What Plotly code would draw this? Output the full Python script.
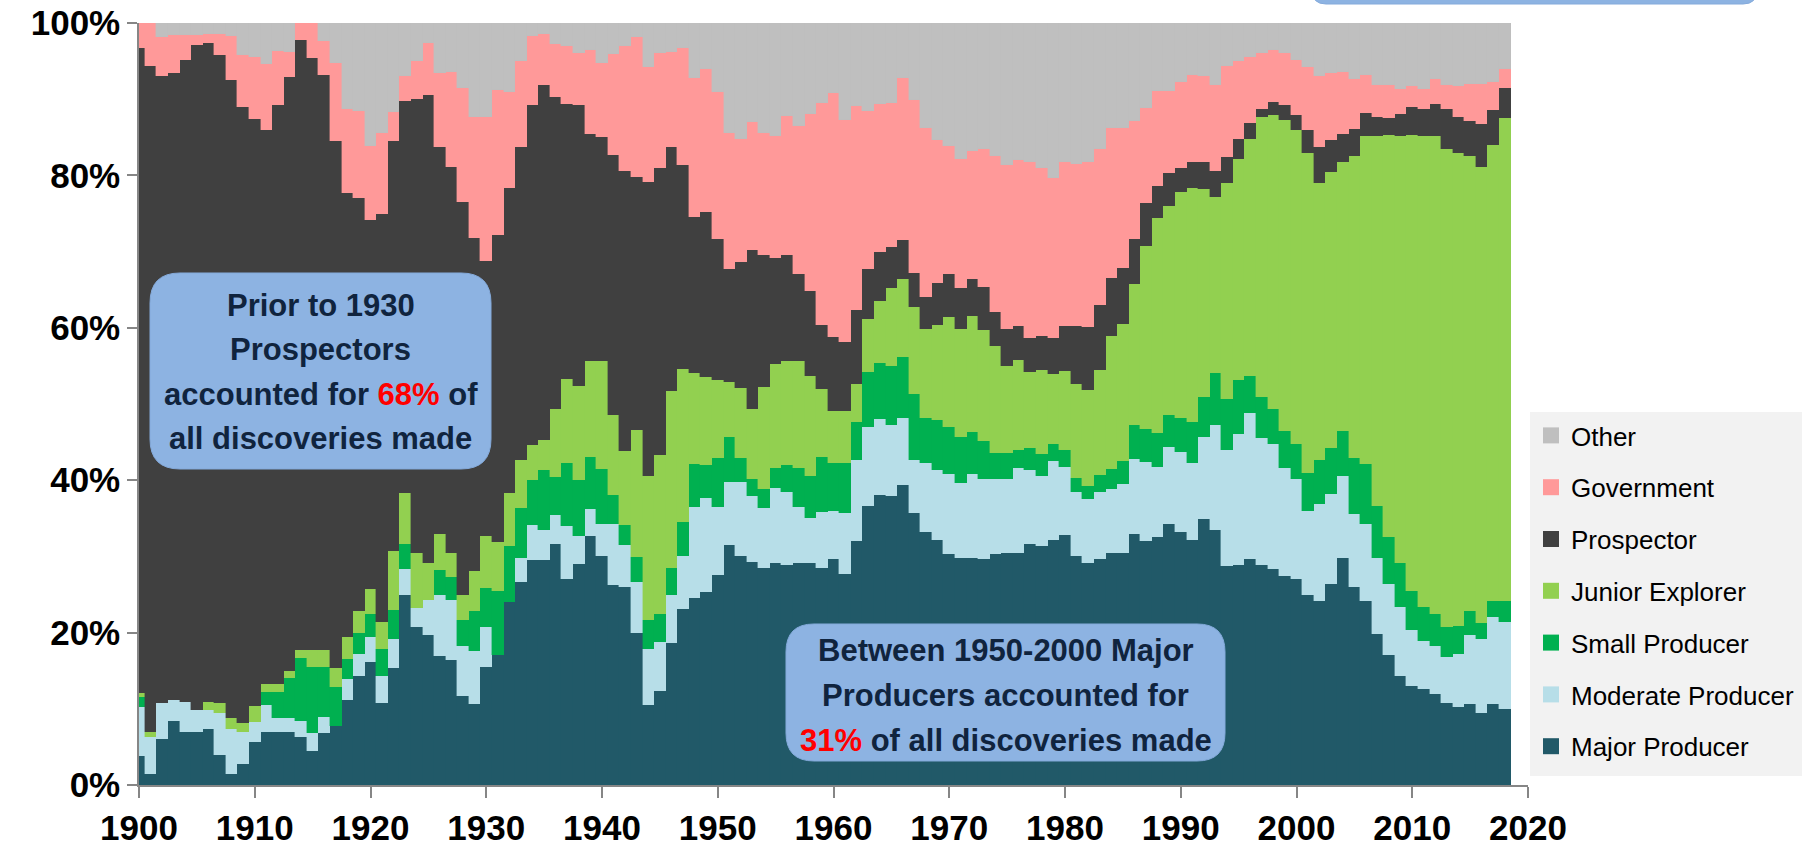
import plotly.graph_objects as go

years = list(range(1900, 2019))

major = [3.8, 1.5, 6.1, 8.4, 6.9, 7.0, 7.3, 4.0, 1.5, 2.7,
         5.6, 7.0, 7.0, 7.0, 6.3, 4.5, 6.8, 7.7, 11.1, 14.3,
         16.1, 10.8, 15.4, 25.0, 20.8, 19.7, 16.9, 16.4, 11.7, 10.6,
         15.5, 17.0, 24.0, 26.6, 29.5, 29.5, 31.6, 27.1, 29.0, 32.7,
         30.1, 26.3, 26.0, 20.0, 10.5, 12.3, 18.7, 23.1, 24.6, 25.3,
         27.6, 31.5, 30.1, 29.3, 28.5, 29.1, 28.9, 29.2, 29.2, 28.5,
         29.7, 27.7, 32.0, 36.6, 38.1, 37.9, 39.4, 35.7, 33.2, 32.2,
         30.3, 29.8, 29.8, 29.7, 30.3, 30.4, 30.5, 31.6, 31.4, 32.2,
         32.8, 30.1, 29.2, 29.7, 30.5, 30.5, 33.0, 32.0, 32.5, 34.2,
         33.2, 32.2, 34.9, 33.5, 28.7, 28.9, 29.6, 28.9, 28.4, 27.4,
         27.0, 24.9, 24.2, 26.4, 29.8, 26.0, 24.2, 19.8, 17.1, 14.3,
         13.0, 12.6, 12.0, 10.8, 10.2, 10.6, 9.5, 10.6, 10.0]

moderate = [6.4, 4.8, 4.6, 2.8, 4.0, 2.8, 2.5, 5.5, 5.9, 4.2,
            2.7, 3.5, 1.8, 1.8, 2.1, 2.3, 2.1, 0.0, 2.8, 2.9,
            3.3, 3.5, 3.8, 3.3, 2.4, 4.6, 8.1, 7.9, 6.6, 7.0,
            5.2, 0.0, 0.0, 3.2, 4.6, 4.0, 3.8, 6.9, 3.7, 3.5,
            4.1, 7.9, 5.5, 6.7, 7.4, 6.5, 6.2, 6.9, 11.9, 12.3,
            8.9, 8.3, 9.6, 8.6, 7.8, 9.9, 9.6, 7.3, 5.8, 7.3,
            6.3, 8.0, 10.6, 10.4, 9.9, 9.3, 8.8, 6.9, 9.0, 9.1,
            10.5, 9.8, 11.0, 10.4, 9.8, 9.8, 11.1, 9.7, 9.1, 10.3,
            8.9, 8.3, 8.3, 8.8, 8.3, 9.0, 9.8, 10.4, 9.2, 10.1,
            10.5, 10.0, 10.8, 13.7, 15.2, 17.1, 19.2, 16.6, 16.3, 14.2,
            13.2, 11.1, 12.7, 11.8, 10.8, 9.6, 10.1, 10.0, 9.3, 9.0,
            7.4, 6.3, 6.2, 6.0, 7.0, 9.1, 9.7, 11.5, 11.4]

small = [1.3, 0.0, 0.0, 0.0, 0.0, 0.0, 0.0, 0.0, 0.0, 0.0,
         0.0, 1.7, 3.4, 5.2, 8.3, 8.7, 6.6, 5.1, 2.7, 2.7,
         3.1, 3.6, 3.8, 3.3, 0.0, 0.0, 3.2, 3.0, 3.3, 5.2,
         5.1, 8.5, 7.3, 6.5, 5.9, 7.8, 5.0, 8.3, 7.3, 6.8,
         7.3, 3.8, 2.6, 3.2, 3.7, 3.7, 3.6, 4.5, 5.6, 4.4,
         6.4, 5.9, 3.2, 2.3, 2.6, 2.6, 3.5, 5.1, 5.6, 7.2,
         6.2, 6.5, 5.0, 7.2, 7.4, 7.8, 8.0, 8.7, 6.0, 6.6,
         6.2, 6.1, 5.5, 5.0, 3.5, 3.4, 2.4, 2.9, 3.0, 2.2,
         2.3, 1.9, 1.7, 2.2, 2.7, 3.0, 4.4, 4.3, 4.5, 4.3,
         4.4, 5.4, 5.2, 6.9, 6.8, 7.1, 4.9, 5.4, 4.6, 4.8,
         4.5, 5.0, 5.7, 6.0, 5.9, 7.3, 7.8, 6.8, 6.2, 5.9,
         5.0, 4.5, 4.2, 3.9, 3.7, 3.1, 2.1, 2.0, 2.7]

junior = [0.6, 0.7, 0.0, 0.0, 0.0, 0.0, 1.1, 1.2, 1.4, 1.3,
          2.1, 1.0, 1.0, 0.9, 1.0, 2.2, 2.2, 2.6, 2.8, 2.9,
          3.2, 3.5, 7.7, 6.7, 7.3, 4.8, 4.8, 3.1, 3.4, 5.3,
          6.9, 6.4, 7.0, 6.4, 4.6, 4.0, 8.9, 11.0, 12.4, 12.7,
          14.2, 10.5, 9.7, 16.7, 18.9, 20.8, 23.2, 20.1, 12.0, 11.6,
          10.2, 7.2, 9.2, 9.1, 13.3, 13.7, 13.7, 14.0, 13.1, 9.0,
          6.9, 6.9, 5.0, 7.0, 8.1, 10.2, 10.2, 11.4, 11.6, 12.5,
          14.4, 14.1, 15.3, 14.6, 14.0, 11.4, 11.8, 10.0, 11.0, 9.2,
          10.3, 12.3, 12.7, 13.7, 17.4, 18.0, 18.6, 24.0, 28.2, 27.4,
          29.7, 30.7, 27.3, 23.1, 28.3, 29.1, 31.1, 36.7, 38.6, 40.9,
          41.2, 41.9, 36.4, 36.2, 35.2, 39.7, 43.1, 48.6, 52.7, 56.0,
          59.9, 61.8, 62.8, 62.7, 62.0, 59.7, 59.8, 59.9, 63.4]

prospector = [84.6, 87.4, 82.3, 82.3, 84.2, 87.3, 86.5, 85.1, 83.7, 80.8,
              77.0, 72.7, 76.1, 78.0, 80.1, 77.7, 75.5, 69.1, 58.3, 54.2,
              48.4, 53.5, 53.8, 51.5, 59.5, 61.4, 50.7, 50.7, 51.5, 43.7,
              36.1, 40.3, 40.1, 41.0, 44.6, 46.5, 41.0, 36.1, 36.9, 29.7,
              29.4, 34.2, 36.8, 33.2, 38.6, 37.7, 32.0, 26.8, 20.4, 21.6,
              18.6, 14.8, 16.5, 20.9, 17.3, 13.9, 13.8, 11.5, 11.1, 8.4,
              9.7, 9.1, 9.7, 6.5, 6.5, 5.4, 5.1, 4.5, 4.2, 5.5,
              5.6, 5.4, 4.8, 5.6, 4.5, 4.8, 4.5, 4.4, 4.4, 4.8,
              6.0, 7.7, 8.2, 8.6, 7.7, 7.4, 5.9, 5.7, 4.2, 4.3,
              3.2, 3.4, 3.6, 3.4, 3.4, 2.6, 2.1, 1.1, 1.7, 2.0,
              2.0, 3.0, 4.7, 4.2, 3.7, 3.5, 3.0, 2.4, 2.2, 2.8,
              3.7, 3.5, 4.2, 5.3, 4.7, 4.7, 5.6, 4.6, 4.0]

government = [3.3, 5.6, 5.2, 4.9, 3.3, 1.3, 1.2, 2.7, 5.8, 6.8,
              8.2, 8.7, 7.0, 3.3, 2.2, 4.6, 4.5, 10.3, 11.0, 11.4,
              9.7, 10.6, 3.8, 3.3, 5.0, 6.9, 9.7, 12.5, 15.0, 15.8,
              18.9, 19.0, 12.5, 11.3, 9.1, 6.7, 7.0, 7.6, 6.8, 11.0,
              9.6, 13.2, 16.4, 18.3, 15.1, 15.0, 12.5, 15.3, 18.3, 18.8,
              19.2, 17.8, 16.2, 16.8, 16.0, 16.0, 18.3, 19.4, 23.3, 29.1,
              32.0, 29.1, 26.8, 20.8, 19.4, 18.9, 21.3, 22.7, 22.2, 18.8,
              16.9, 16.9, 16.8, 18.1, 20.5, 21.5, 21.7, 23.1, 22.1, 20.9,
              21.4, 21.2, 21.7, 20.4, 19.6, 18.3, 15.5, 12.5, 12.5, 10.8,
              11.3, 11.5, 11.3, 11.2, 12.0, 10.2, 8.6, 7.3, 6.9, 6.7,
              7.3, 8.3, 9.3, 8.8, 8.2, 6.6, 5.0, 4.2, 4.3, 3.4,
              2.7, 2.7, 3.2, 3.2, 4.1, 4.8, 5.3, 3.7, 2.5]

other = [0.0, 0.0, 1.8, 1.6, 1.6, 1.6, 1.4, 1.5, 1.7, 4.2,
         4.4, 5.4, 3.7, 3.8, 0.0, 0.0, 2.3, 5.2, 11.3, 11.6,
         16.2, 14.5, 11.7, 6.9, 5.0, 2.6, 6.6, 6.4, 8.5, 12.4,
         12.3, 8.8, 9.1, 5.0, 1.7, 1.5, 2.7, 3.0, 3.9, 3.6,
         5.3, 4.1, 3.0, 1.9, 5.8, 4.0, 3.8, 3.3, 7.2, 6.0,
         9.1, 14.5, 15.2, 13.0, 14.5, 14.8, 12.2, 13.5, 11.9, 10.5,
         9.2, 12.7, 10.9, 11.5, 10.6, 10.5, 7.2, 10.1, 13.8, 15.3,
         16.1, 17.9, 16.8, 16.6, 17.4, 18.7, 18.0, 18.3, 19.0, 20.4,
         18.3, 18.5, 18.2, 16.6, 13.8, 13.8, 12.8, 11.1, 8.9, 8.9,
         7.7, 6.8, 6.9, 8.2, 5.6, 5.0, 4.5, 4.0, 3.5, 4.0,
         4.8, 5.8, 7.0, 6.6, 6.4, 7.3, 6.8, 8.2, 8.2, 8.6,
         8.3, 8.6, 7.4, 8.1, 8.3, 8.0, 8.0, 7.7, 6.0]

series_names = ["Major Producer", "Moderate Producer", "Small Producer",
                "Junior Explorer", "Prospector", "Government", "Other"]
series_values = [major, moderate, small, junior, prospector, government, other]
series_colors = ["#215968", "#b7dee8", "#00b050", "#92d050", "#404040", "#ff9999", "#bfbfbf"]

x_ticks = list(range(1900, 2021, 10))
y_ticks = [0, 20, 40, 60, 80, 100]
y_ticktext = ["0%", "20%", "40%", "60%", "80%", "100%"]

# ---- layout geometry (pixels) ----
W, H = 1802, 846
PL, PR, PT, PB = 139, 1528, 23, 785


def px(xp):
    return (xp - PL) / (PR - PL)


def py(yp):
    return (PB - yp) / (PB - PT)


def rounded_path(x0, y0, x1, y1, r):
    pts = [
        ("M", [(x0 + r, y0)]),
        ("L", [(x1 - r, y0)]),
        ("Q", [(x1, y0), (x1, y0 + r)]),
        ("L", [(x1, y1 - r)]),
        ("Q", [(x1, y1), (x1 - r, y1)]),
        ("L", [(x0 + r, y1)]),
        ("Q", [(x0, y1), (x0, y1 - r)]),
        ("L", [(x0, y0 + r)]),
        ("Q", [(x0, y0), (x0 + r, y0)]),
    ]
    s = ""
    for cmd, ps in pts:
        s += cmd + " ".join(f"{px(a):.5f},{py(b):.5f}" for a, b in ps) + " "
    return s + "Z"


FONT = "Liberation Sans, Arial, sans-serif"

fig = go.Figure()
for name, vals, col in zip(series_names, series_values, series_colors):
    fig.add_trace(go.Bar(
        x=years, y=vals, name=name, showlegend=False,
        marker=dict(color=col, line=dict(color=col, width=0.4)),
    ))

# legend entries (square symbols), listed top (Other) to bottom (Major Producer)
for name, col in list(zip(series_names, series_colors))[::-1]:
    fig.add_trace(go.Scatter(
        x=[None], y=[None], mode="markers", name=name, legendgroup=name,
        marker=dict(symbol="square", size=16, color=col),
    ))

shapes = [
    dict(type="rect", xref="paper", yref="paper", x0=px(1530), x1=px(1802),
         y0=py(776), y1=py(412), fillcolor="#f2f2f2", line=dict(width=0), layer="below"),
    dict(type="path", xref="paper", yref="paper", path=rounded_path(150, 273, 491, 469, 30),
         fillcolor="#8db3e2", line=dict(color="#84aadb", width=1), layer="above"),
    dict(type="path", xref="paper", yref="paper", path=rounded_path(786, 624, 1225, 761, 28),
         fillcolor="#8db3e2", line=dict(color="#84aadb", width=1), layer="above"),
    dict(type="path", xref="paper", yref="paper", path=rounded_path(1312, -40, 1757, 4, 14),
         fillcolor="#8db3e2", line=dict(color="#84aadb", width=1), layer="above"),
]

TXT = "#10243e"
RED = "<span style='color:#ff0000'>{}</span>"
box1 = [("Prior to 1930", 305), ("Prospectors", 349),
        ("accounted for " + RED.format("68%") + " of", 394), ("all discoveries made", 438)]
box2 = [("Between 1950-2000 Major", 650), ("Producers accounted for", 695),
        (RED.format("31%") + " of all discoveries made", 740)]
annotations = []
for text, yy in box1:
    annotations.append(dict(x=px(320.5), y=py(yy), xref="paper", yref="paper", text=text,
                            showarrow=False, xanchor="center", yanchor="middle",
                            font=dict(family=FONT, size=31, color=TXT, weight="bold")))
for text, yy in box2:
    annotations.append(dict(x=px(1005.5), y=py(yy), xref="paper", yref="paper", text=text,
                            showarrow=False, xanchor="center", yanchor="middle",
                            font=dict(family=FONT, size=31, color=TXT, weight="bold")))

fig.update_layout(
    width=W, height=H,
    margin=dict(l=PL, r=W - PR, t=PT, b=H - PB, pad=0, autoexpand=False),
    barmode="stack", bargap=0,
    plot_bgcolor="white", paper_bgcolor="white",
    showlegend=True,
    legend=dict(x=px(1531), y=py(412), xanchor="left", yanchor="top",
                bgcolor="rgba(0,0,0,0)", traceorder="grouped",
                tracegroupgap=15, font=dict(family=FONT, size=26, color="#000000"),
                itemclick=False),
    shapes=shapes, annotations=annotations,
    xaxis=dict(range=[1900, 2020], tickvals=x_ticks, ticks="outside", ticklen=11,
               tickwidth=1.5, tickcolor="#868686", showline=True, linecolor="#868686",
               linewidth=1.5, showgrid=False, zeroline=False, automargin=False,
               tickfont=dict(family=FONT, size=35, color="#000000", weight="bold")),
    yaxis=dict(range=[0, 100], tickvals=y_ticks, ticktext=y_ticktext, ticks="outside",
               ticklen=10, tickwidth=1.5, tickcolor="#868686", showline=True,
               linecolor="#868686", linewidth=1.5, showgrid=False, zeroline=False,
               automargin=False,
               tickfont=dict(family=FONT, size=35, color="#000000", weight="bold")),
)

fig.write_html("out.html",
               config={"displayModeBar": False},
               post_script="document.body.style.margin='0px';document.body.style.overflow='hidden';")
